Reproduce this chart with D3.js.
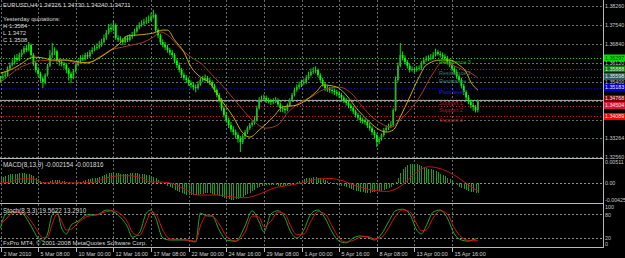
<!DOCTYPE html>
<html><head><meta charset="utf-8">
<script src="https://cdn.jsdelivr.net/npm/d3@7"></script>
<style>
body{margin:0;background:#000;overflow:hidden;}
text{font-family:"Liberation Sans",Arial,sans-serif;}
</style></head><body>
<svg id="chart" width="625" height="258"></svg>
<script>
// EURUSD H4 candles, prices stored as pips above 1.3000
const opens = [545,554,560,566,590,603,612,630,622,641,650,667,660,679,641,610,584,570,552,539,
566,600,640,650,655,620,615,608,603,585,570,554,580,603,618,630,625,641,636,652,
660,667,672,679,690,705,725,743,738,754,705,700,698,690,705,698,710,717,730,745,
754,760,766,770,773,785,792,735,715,690,680,670,660,650,641,620,603,585,566,555,
547,535,528,520,516,530,547,550,554,545,539,525,509,490,471,440,415,395,377,360,
350,339,325,313,335,350,365,377,385,396,440,471,475,479,470,468,464,468,471,455,
441,438,433,450,471,490,509,520,528,535,539,555,565,577,580,584,565,547,530,516,
512,509,505,501,495,490,480,471,460,450,441,428,415,405,396,392,388,375,365,350,
339,313,325,339,358,365,372,377,433,547,600,641,630,615,600,584,588,584,590,592,
610,622,626,628,630,640,652,645,641,635,630,615,603,590,577,560,547,525,501,480,
465,452,445,433];
const highs = [562,575,580,598,612,625,640,645,650,662,675,680,690,684,648,618,595,578,560,572,
608,660,686,670,662,628,622,615,610,592,578,588,610,625,640,642,650,652,660,670,
678,685,695,702,718,735,758,760,770,760,715,712,705,712,715,720,728,740,752,765,
772,778,785,790,800,812,798,742,722,700,690,680,668,660,648,628,612,592,575,565,
556,545,538,530,542,555,562,568,562,555,545,532,515,498,478,448,425,405,388,372,
360,348,335,342,358,372,385,395,410,450,482,488,492,488,480,476,478,482,478,462,
450,446,458,478,498,518,530,540,548,552,565,578,590,595,598,590,572,555,538,525,
522,518,515,510,505,498,488,478,468,458,448,435,422,415,405,400,395,385,372,358,
345,332,345,365,375,382,392,440,560,612,686,655,640,622,608,598,595,600,602,618,
632,638,640,645,652,665,660,655,650,645,638,625,612,598,585,568,555,532,508,490,
472,462,452,473];
const lows = [538,548,552,560,585,598,605,615,618,632,645,652,655,635,600,575,560,540,516,530,
560,595,630,640,612,600,598,590,572,545,535,550,575,598,612,618,620,628,630,645,
655,660,665,672,685,698,718,728,732,698,690,685,678,685,690,692,702,712,725,738,
748,752,758,762,768,778,728,705,682,670,660,650,640,630,610,592,575,555,545,535,
525,515,508,500,510,525,540,542,535,528,515,500,480,462,430,405,385,365,350,338,
325,310,275,305,328,342,358,370,378,390,435,462,468,460,458,452,455,460,445,425,
425,420,428,445,465,485,502,512,520,528,532,548,560,570,572,558,540,522,505,502,
498,495,490,485,478,470,460,450,440,430,418,405,395,385,382,378,365,355,340,325,
294,305,318,332,350,358,365,370,428,540,595,620,605,590,575,578,575,578,582,585,
605,615,618,620,625,635,638,632,625,620,605,595,580,568,550,538,515,490,470,455,
440,430,424,424];
const closes = [554,560,566,590,603,612,630,622,641,650,667,660,679,641,610,584,570,552,539,566,
600,640,650,655,620,615,608,603,585,570,554,580,603,618,630,625,641,636,652,660,
667,672,679,690,705,725,743,738,754,705,700,698,690,705,698,710,717,730,745,754,
760,766,770,773,785,792,735,715,690,680,670,660,650,641,620,603,585,566,555,547,
535,528,520,516,530,547,550,554,545,539,525,509,490,471,440,415,395,377,360,350,
339,325,313,335,350,365,377,385,396,440,471,475,479,470,468,464,468,471,455,441,
438,433,450,471,490,509,520,528,535,539,555,565,577,580,584,565,547,530,516,512,
509,505,501,495,490,480,471,460,450,441,428,415,405,396,392,388,375,365,350,339,
313,325,339,358,365,372,377,433,547,600,641,630,615,600,584,588,584,590,592,610,
622,626,628,630,640,652,645,641,635,630,615,603,590,577,560,547,525,501,480,465,
452,445,433,471];

const tickBars = [0,16,32,48,64,80,96,112,128,144,160,176,192];
const tickLabels = ["2 Mar 2010","5 Mar 08:00","10 Mar 00:00","12 Mar 16:00","17 Mar 08:00","22 Mar 00:00",
  "24 Mar 16:00","29 Mar 08:00","1 Apr 00:00","5 Apr 16:00","8 Apr 08:00","13 Apr 00:00","15 Apr 16:00"];
const priceTicks = [1.38260,1.37540,1.36840,1.36120,1.35400,1.34680,1.33960,1.33264,1.32560];

// moving averages, read at sample bars
const maBars = [0,4,8,14,18,22,28,33,37,42,47,50,54,59,65,69,71,74,78,81,85,89,93,99,103,106,110,116,120,126,130,135,137,143,147,152,156,160,164,167,170,174,178,181,187,191,195,198,200,203];
const maFast = [573,584,603,633,630,622,622,615,611,630,660,679,713,717,724,735,735,698,652,596,558,535,482,407,347,331,358,407,445,452,471,509,528,520,490,433,396,365,350,358,407,482,558,603,622,622,603,577,539,509];
const maSlowBars = [0,4,8,13,17,21,27,33,38,42,47,52,56,61,65,68,71,76,81,85,90,96,102,107,113,118,122,127,132,137,144,149,154,158,163,166,170,174,178,184,188,192,197,200,203];
const maSlow = [539,566,592,611,622,618,622,611,615,633,660,671,679,690,709,728,717,671,633,611,566,509,445,396,365,377,422,460,482,509,520,498,445,407,377,369,396,433,479,573,615,603,584,573,554];

// pivot levels
const levelNames = ["Resistance 3","Resistance 2","Resistance 1","Pivot level","Support 1","Support 2","Support 3"];
const levelValues = [1.36297,1.35888,1.35598,1.35183,1.34768,1.34504,1.34089];
const levelColors = ["#00e000","#008000","#2f5f5f","#0000c8","#800000","#dc143c","#ff0000"];
const levelText = ["#00c000","#3a7a7a","#3a7a7a","#2020e0","#a02020","#c01030","#d01010"];

// MACD main per bar (x 1e-4) and signal samples
const macdHist = [12,14,16,18,19,20,21,21,22,22,22,21,20,
18,15,12,8,5,2,1,3,
5,6,7,7,6,5,4,3,2,0,
0,1,2,3,5,6,8,9,10,11,
12,14,16,18,20,22,23,24,23,22,21,20,20,21,22,
22,22,22,21,20,19,18,17,15,13,10,
6,3,0,-3,-6,-9,-12,-15,-18,-20,-22,
-24,-26,-27,-28,-28,-27,-26,-25,-24,-23,-22,-23,-24,
-26,-28,-30,-32,-34,-35,-36,-37,-37,-36,-35,-33,-31,-28,-25,
-22,-19,-15,-11,-8,-6,-5,-4,-4,-4,-4,-5,-6,-6,-6,
-6,-5,-4,-2,0,2,4,6,8,10,11,12,13,13,12,10,8,6,4,2,
0,-2,-4,-5,-6,-7,-9,-11,-13,-15,-17,-19,-20,-21,-22,-22,-22,-21,-20,-19,-18,-17,-16,-14,-12,-10,
-5,3,12,22,30,36,40,42,43,43,42,40,38,36,
34,32,30,28,26,24,21,18,15,12,8,4,0,-4,-8,
-11,-14,-16,-18,-20,-21,-22,-21.5];
const sigBars = [0,4,8,14,18,24,28,34,40,45,51,55,60,64,68,72,78,84,88,92,98,104,110,116,122,128,134,140,146,152,158,164,170,176,182,188,194,200,203];
const sigVals = [0,2,9,9,0,0,0,0,2,11,16,16,11,2,2,0,-13,-27,-27,-27,-31,-33,-25,-12,-6,0,8,10,4,-8,-16,-19,-8,20,36,30,14,-8,-18.16];

// stochastic samples
const stBars = [0,2,5,9,13,16,18,20,22,24,26,28,30,33,37,41,45,48,51,54,56,59,62,64,66,69,72,79,83,85,88,90,93,96,100,104,107,110,112,115,118,121,123,126,129,132,135,138,141,144,147,150,153,156,159,162,165,168,171,174,177,179,181,184,187,190,193,196,199,201,203];
const stMain = [45,78,86,82,50,20,14,30,78,86,45,30,52,62,78,78,90,86,72,48,22,32,82,90,70,20,15,15,10,82,75,75,40,15,12,50,88,60,35,80,88,70,40,20,40,80,90,70,35,12,8,20,25,22,15,30,60,88,92,80,40,30,50,85,90,70,30,15,12,16,19.56];
const stSig = [55,65,82,84,62,35,20,22,55,80,62,40,42,58,74,78,86,88,80,60,35,26,60,84,80,40,18,15,12,50,78,76,55,25,12,35,75,72,48,62,85,80,55,28,30,62,86,80,50,20,10,14,22,24,18,22,45,75,90,86,55,38,40,70,88,80,45,22,14,13,13.29];

const W = 603, N = closes.length;
const svg = d3.select('#chart');
svg.append('rect').attr('width', 625).attr('height', 258).attr('fill', '#000');

const x = d3.scaleLinear().domain([0, 192]).range([0.5, 452]);
const yP = d3.scaleLinear().domain([1.32560, 1.38260]).range([157, 6]);
const yM = d3.scaleLinear().domain([-0.00425, 0.00511]).range([202, 160]);
const yS = d3.scaleLinear().domain([0, 100]).range([246, 206]);
const px = v => 1.3 + v / 10000;
const crisp = v => Math.round(v) + 0.5;

const gridCol = '#5f6e6e';
const g = svg.append('g').attr('shape-rendering', 'crispEdges');

// vertical grid through all windows
tickBars.forEach(b => {
    g.append('line').attr('x1', crisp(x(b))).attr('x2', crisp(x(b)))
        .attr('y1', 0).attr('y2', 247).attr('stroke', gridCol).attr('stroke-dasharray', '2,2');
});
// horizontal price grid
priceTicks.forEach(p => {
    g.append('line').attr('x1', 0).attr('x2', W).attr('y1', crisp(yP(p))).attr('y2', crisp(yP(p)))
        .attr('stroke', gridCol).attr('stroke-dasharray', '2,2');
});
// MACD zero, stoch levels
[yM(0), yS(80), yS(20)].forEach(yy => {
    g.append('line').attr('x1', 0).attr('x2', W).attr('y1', crisp(yy)).attr('y2', crisp(yy))
        .attr('stroke', '#8a9090').attr('stroke-dasharray', '2,2');
});

// pivot lines
levelValues.forEach((v, i) => {
    g.append('line').attr('x1', 0).attr('x2', W).attr('y1', crisp(yP(v))).attr('y2', crisp(yP(v)))
        .attr('stroke', levelColors[i]).attr('stroke-dasharray', '1,2');
});
// bid line
const bidY = crisp(yP(px(closes[N - 1])));
g.append('line').attr('x1', 0).attr('x2', W).attr('y1', bidY).attr('y2', bidY).attr('stroke', '#a0a0a0');

// candles
const cg = svg.append('g');
closes.forEach((c, i) => {
    const o = opens[i];
    const top = yP(px(Math.max(o, c))), bot = yP(px(Math.min(o, c)));
    cg.append('line').attr('x1', x(i)).attr('x2', x(i))
        .attr('y1', yP(px(highs[i]))).attr('y2', yP(px(lows[i]))).attr('stroke', '#00ff00').attr('stroke-width', 0.9);
    cg.append('rect').attr('x', x(i) - 0.9).attr('width', 1.8)
        .attr('y', top).attr('height', Math.max(0.8, bot - top))
        .attr('fill', c >= o ? '#30b030' : '#00ff00');
});

// moving averages
const line = d3.line().curve(d3.curveMonotoneX);
svg.append('path').attr('d', line(maSlowBars.map((b, i) => [x(b), yP(px(maSlow[i]))])))
    .attr('fill', 'none').attr('stroke', '#a33a2a').attr('stroke-width', 1);
svg.append('path').attr('d', line(maBars.map((b, i) => [x(b), yP(px(maFast[i]))])))
    .attr('fill', 'none').attr('stroke', '#c8b000').attr('stroke-width', 1);

// level text labels
levelNames.forEach((n, i) => {
    svg.append('text').attr('x', 439).attr('y', yP(levelValues[i]) + 6).attr('font-size', 5.5)
        .attr('fill', levelText[i]).text(n);
});

// MACD
const mg = svg.append('g').attr('shape-rendering', 'crispEdges');
macdHist.forEach((h, i) => {
    mg.append('line').attr('x1', crisp(x(i))).attr('x2', crisp(x(i)))
        .attr('y1', yM(0)).attr('y2', yM(h / 10000)).attr('stroke', '#1c9a1c');
});
svg.append('path').attr('d', line(sigBars.map((b, i) => [x(b), yM(sigVals[i] / 10000)])))
    .attr('fill', 'none').attr('stroke', '#d01010');

// Stochastic
svg.append('path').attr('d', line(stBars.map((b, i) => [x(b), yS(stMain[i])])))
    .attr('fill', 'none').attr('stroke', '#1faa1f');
svg.append('path').attr('d', line(stBars.map((b, i) => [x(b), yS(stSig[i])])))
    .attr('fill', 'none').attr('stroke', '#e01010');

// window borders
const bg = svg.append('g').attr('shape-rendering', 'crispEdges').attr('stroke', '#b8b8b8');
bg.append('line').attr('x1', W + 0.5).attr('x2', W + 0.5).attr('y1', 0).attr('y2', 248);
[158.5, 203.5, 247.5].forEach(yy => bg.append('line').attr('x1', 0).attr('x2', W + 1).attr('y1', yy).attr('y2', yy));

// right axis labels
const fs = 5.3;
const axisText = (yy, t, col) => svg.append('text').attr('x', 605).attr('y', yy + 1.9).attr('font-size', fs)
    .attr('fill', col || '#c8c8c8').text(t);
const boxYs = levelValues.map(v => yP(v));
levelValues.forEach((v, i) => {
    svg.append('rect').attr('x', 604).attr('y', yP(v) - 3.5).attr('width', 21).attr('height', 7).attr('fill', levelColors[i]);
    axisText(yP(v), v.toFixed(5), i === 0 ? '#004000' : '#e8e8e8');
});
// grid price labels drawn over the boxes where there is room between them
priceTicks.forEach(p => {
    const yy = yP(p);
    if (boxYs.every(b => Math.abs(b - yy) > 4.5)) axisText(yy, p.toFixed(5));
});

axisText(yM(0.00511) + 2, '0.00511');
axisText(yM(0), '0.00');
axisText(yM(-0.00425) - 2, '-0.00425');
axisText(yS(100) + 1, '100');
axisText(yS(80) + 1.5, '80');
axisText(yS(20), '20');
axisText(yS(0) - 1.5, '0');

// time axis
tickBars.forEach((b, i) => {
    const xx = crisp(x(b));
    svg.append('line').attr('x1', xx).attr('x2', xx).attr('y1', 248).attr('y2', 252).attr('stroke', '#b8b8b8');
    svg.append('text').attr('x', xx + 2).attr('y', 256).attr('font-size', 5.5).attr('fill', '#d0d0d0').text(tickLabels[i]);
});

// titles
const tt = (xx, yy, t, s) => svg.append('text').attr('x', xx).attr('y', yy).attr('font-size', s || 6)
    .attr('fill', '#d8d8d8').text(t);
tt(3, 7, 'EURUSD,H4  1.34326 1.34730 1.34240 1.34711');
tt(3, 21, 'Yesterday quotations:');
tt(3, 28, 'H 1.3584');
tt(3, 35, 'L 1.3472');
tt(3, 42, 'C 1.3508');
tt(3, 167, 'MACD(8,13,9) -0.002154 -0.001816', 6.3);
tt(3, 213, 'Stoch(8,3,3) 19.5622 13.2910', 6.3);
tt(3, 245, 'FxPro MT4, \u00a9 2001-2008 MetaQuotes Software Corp.');
</script>
</body></html>
